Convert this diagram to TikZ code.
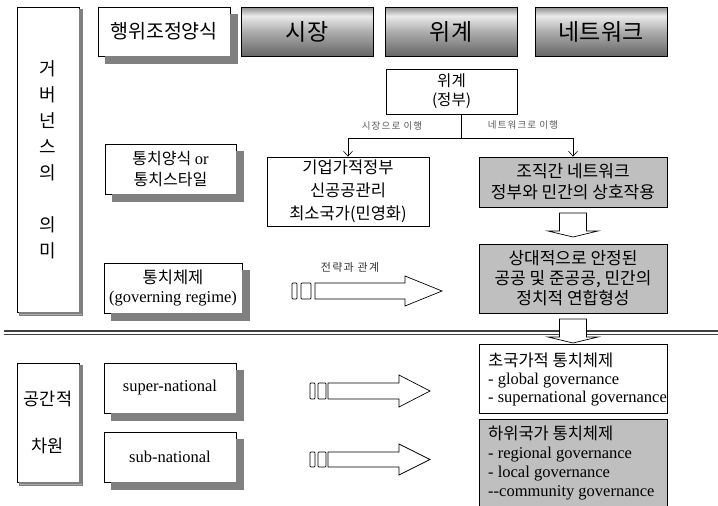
\documentclass[tikz,border=0pt]{standalone}
\usepackage{fontspec}
\setmainfont{Liberation Serif}
\newfontfamily\kr{Noto Sans CJK KR}
\newfontfamily\krs[LetterSpace=12]{Noto Sans CJK KR}
\usetikzlibrary{arrows.meta}
\definecolor{shadowgray}{RGB}{128,128,128}
\pgfdeclareverticalshading{barrel}{100bp}{color(0bp)=(black!60); color(25bp)=(black!60); color(50bp)=(black!32); color(66bp)=(black!8); color(75bp)=(black!45); color(100bp)=(black!45)}
\begin{document}
\begin{tikzpicture}[x=1pt,y=-1pt,
  box/.style={draw, line width=0.8pt, fill=white, inner sep=0pt, align=center},
  gbox/.style={box, fill=black!25},
  sh/.style={fill=shadowgray, draw=shadowgray, line width=0.1pt},
  hbox/.style={draw, line width=0.8pt, shading=barrel, inner sep=0pt, minimum width=132pt, minimum height=49pt, font=\kr\fontsize{23}{26}\selectfont},
  arr/.style={-{Straight Barb[length=5pt,width=9pt]}, line width=0.6pt},
  blk/.style={draw, fill=white, line width=0.7pt, line join=miter},
  lbl/.style={text=black!65, inner sep=0pt},
  ltext/.style={anchor=west, inner sep=0pt, align=left}
]
\useasboundingbox (0,0) rectangle (718,506);

% double separator line
\draw[line width=1.2pt, black!75] (4,331) -- (718,331);
\draw[line width=1.2pt, black!75] (4,334.5) -- (718,334.5);

% left column
\node[box, minimum width=62pt, minimum height=305pt, font=\kr\fontsize{18}{26}\selectfont] (L1) at (48,159.5)
  {거\\버\\넌\\스\\의\\~\\의\\미};
\node[box, minimum width=62pt, minimum height=119pt, font=\kr\fontsize{17.5}{47}\selectfont] (L2) at (48,422.5)
  {공간적\\차원};

% header row
\node[box, minimum width=132pt, minimum height=49pt, font=\kr\fontsize{19.5}{22}\selectfont] (H0) at (164,31.5) {행위조정양식};
\node[hbox] (H1) at (307,31.5) {시장};
\node[hbox] (H2) at (451,31.5) {위계};
\node[hbox] (H3) at (601,31.5) {네트워크};

% second column
\node[box, minimum width=131pt, minimum height=50pt, font=\kr\fontsize{16}{21}\selectfont] (P1) at (170.5,169)
  {통치양식 {\rmfamily\fontsize{16.5}{21}\selectfont or}\\통치스타일};
\node[box, minimum width=138pt, minimum height=50pt, font=\fontsize{16.5}{18.5}\selectfont] (P2) at (173,288)
  {{\kr 통치체제}\\(governing regime)};
\node[box, minimum width=132pt, minimum height=50pt, font=\fontsize{16.5}{19}\selectfont] (SP) at (170,388) {super-national};
\node[box, minimum width=132pt, minimum height=50pt, font=\fontsize{16.5}{19}\selectfont] (SB) at (170,457) {sub-national};

% drop shadows (visible L-shaped parts, drawn after the boxes)
\fill[sh] (230.4,14) -- (237,14) -- (237,63) -- (105,63) -- (105,56.4) -- (230.4,56.4) -- cycle;   % H0
\fill[sh] (236.4,151) -- (243,151) -- (243,201) -- (112,201) -- (112,194.4) -- (236.4,194.4) -- cycle; % P1
\fill[sh] (242.4,270) -- (249,270) -- (249,320) -- (111,320) -- (111,313.4) -- (242.4,313.4) -- cycle; % P2
\fill[sh] (236.4,370) -- (243,370) -- (243,420) -- (111,420) -- (111,413.4) -- (236.4,413.4) -- cycle; % SP
\fill[sh] (236.4,439) -- (243,439) -- (243,489) -- (111,489) -- (111,482.4) -- (236.4,482.4) -- cycle; % SB
\fill[sh] (79.4,9.5) -- (82,9.5) -- (82,314.6) -- (19.5,314.6) -- (19.5,312.4) -- (79.4,312.4) -- cycle; % L1
\fill[sh] (79.4,365.5) -- (82,365.5) -- (82,484.6) -- (19.5,484.6) -- (19.5,482.4) -- (79.4,482.4) -- cycle; % L2

% hierarchy
\node[box, minimum width=131pt, minimum height=45pt, font=\kr\fontsize{15.5}{19}\selectfont] (G) at (451.5,91.5) {위계\\(정부)};
\node[box, minimum width=162pt, minimum height=69pt, font=\kr\fontsize{16.5}{23}\selectfont] (M) at (348,191.5)
  {기업가적정부\\신공공관리\\최소국가(민영화)};
\node[gbox, minimum width=188pt, minimum height=50pt, font=\kr\fontsize{17}{21}\selectfont] (N) at (573,182)
  {조직간 네트워크\\정부와 민간의 상호작용};
\node[gbox, minimum width=188pt, minimum height=69pt, font=\kr\fontsize{17}{20}\selectfont] (S) at (573,278.5)
  {상대적으로 안정된\\공공 및 준공공, 민간의\\정치적 연합형성};
\node[box, minimum width=188pt, minimum height=69pt] (T) at (573,378.5) {};
\node[ltext, font=\fontsize{16.5}{18}\selectfont] (Tt) at (488,379)
  {{\kr 초국가적 통치체제}\\- global governance\\- supernational governance};
\node[gbox, minimum width=188pt, minimum height=89pt] (U) at (573,463.5) {};
\node[ltext, font=\fontsize{16.5}{18.7}\selectfont] (Ut) at (488,463)
  {{\kr 하위국가 통치체제}\\- regional governance\\- local governance\\-{}-community governance};

% branching connector
\coordinate (br) at (461,138);
\draw[line width=0.6pt] (G.south -| br) -- (br);
\draw[arr] (br) -| (M.north);
\draw[arr] (br) -| (N.north);
\node[lbl, font=\krs\fontsize{9.5}{11}\selectfont] (t1) at (392,126) {시장으로 이행};
\node[lbl, font=\krs\fontsize{9.5}{11}\selectfont] (t2) at (523,125) {네트워크로 이행};

% block down arrows
\draw[blk] (559.5,213) -- (586.5,213) -- (586.5,231) -- (598,231) -- (573,237) -- (548,231) -- (559.5,231) -- cycle;
\draw[blk] (559.5,319) -- (586.5,319) -- (586.5,337) -- (598,337) -- (573,343) -- (548,337) -- (559.5,337) -- cycle;

% block right arrows
\node[lbl, text=black!80, font=\krs\fontsize{11}{13}\selectfont] (t3) at (350,267) {전략과 관계};
\draw[blk, rounded corners=0.8pt] (292,283) rectangle (297,299);
\draw[blk, rounded corners=0.8pt] (301,283) rectangle (311,299);
\draw[blk] (315,283) -- (405,283) -- (405,276) -- (442,291) -- (405,306) -- (405,299) -- (315,299) -- cycle;

\draw[blk, rounded corners=0.8pt] (310,383) rectangle (315,399);
\draw[blk, rounded corners=0.8pt] (318,383) rectangle (326,399);
\draw[blk] (328,383) -- (399,383) -- (399,375) -- (430,391) -- (399,407) -- (399,399) -- (328,399) -- cycle;

\draw[blk, rounded corners=0.8pt] (310,452) rectangle (315,467);
\draw[blk, rounded corners=0.8pt] (318,452) rectangle (326,467);
\draw[blk] (328,452) -- (399,452) -- (399,444) -- (430,459.5) -- (399,475) -- (399,467) -- (328,467) -- cycle;
\end{tikzpicture}
\end{document}
